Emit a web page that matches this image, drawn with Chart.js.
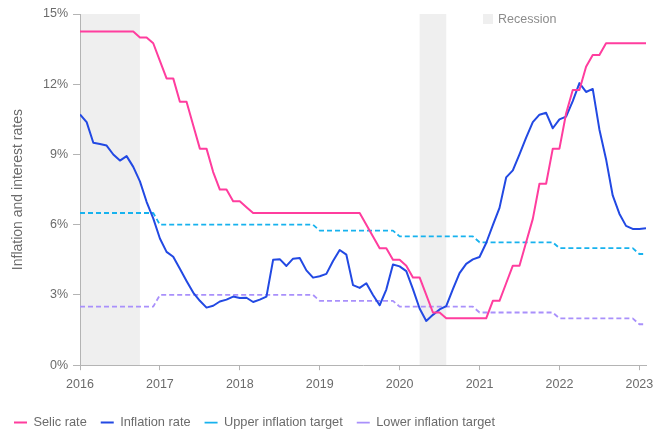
<!DOCTYPE html>
<html><head><meta charset="utf-8">
<script src="https://cdn.jsdelivr.net/npm/chart.js@4.4.1/dist/chart.umd.min.js"></script>
<style>html,body{margin:0;padding:0;background:#fff}#wrap{width:667px;height:430px;position:relative}</style>
</head><body><div id="wrap"><canvas id="c" width="667" height="430"></canvas></div>
<script>
// Monthly data, index 0 = Jan 2016 ... index 85 = Feb 2023
const xTickValues = [0, 12, 24, 36, 48, 60, 72, 84];
const xTickLabels = ['2016', '2017', '2018', '2019', '2020', '2021', '2022', '2023'];
const yTickValues = [0, 3, 6, 9, 12, 15];
const yTickLabels = ['0%', '3%', '6%', '9%', '12%', '15%'];

const selicRate = [
  14.25, 14.25, 14.25, 14.25, 14.25, 14.25, 14.25, 14.25, 14.25, 14.0, 14.0, 13.75,
  13.0, 12.25, 12.25, 11.25, 11.25, 10.25, 9.25, 9.25, 8.25, 7.5, 7.5, 7.0,
  7.0, 6.75, 6.5, 6.5, 6.5, 6.5, 6.5, 6.5, 6.5, 6.5, 6.5, 6.5,
  6.5, 6.5, 6.5, 6.5, 6.5, 6.5, 6.5, 6.0, 5.5, 5.0, 5.0, 4.5,
  4.5, 4.25, 3.75, 3.75, 3.0, 2.25, 2.25, 2.0, 2.0, 2.0, 2.0, 2.0,
  2.0, 2.0, 2.75, 2.75, 3.5, 4.25, 4.25, 5.25, 6.25, 7.75, 7.75, 9.25,
  9.25, 10.75, 11.75, 11.75, 12.75, 13.25, 13.25, 13.75, 13.75, 13.75, 13.75, 13.75,
  13.75, 13.75
];
const inflationRate = [
  10.71, 10.38, 9.5, 9.45, 9.38, 9.0, 8.74, 8.93, 8.47, 7.85, 6.98, 6.27,
  5.41, 4.84, 4.63, 4.12, 3.6, 3.1, 2.75, 2.46, 2.54, 2.72, 2.8, 2.93,
  2.87, 2.88, 2.7, 2.8, 2.93, 4.5, 4.53, 4.24, 4.55, 4.58, 4.05, 3.74,
  3.8, 3.9, 4.45, 4.92, 4.72, 3.42, 3.3, 3.5, 3.0, 2.56, 3.23, 4.3,
  4.22, 4.02, 3.25, 2.42, 1.89, 2.15, 2.38, 2.52, 3.25, 3.93, 4.33, 4.52,
  4.62, 5.22, 5.98, 6.72, 8.02, 8.32, 9.0, 9.72, 10.38, 10.7, 10.78, 10.12,
  10.5, 10.62, 11.28, 12.05, 11.67, 11.8, 10.07, 8.8, 7.25, 6.47, 5.95, 5.82,
  5.82, 5.85
];
const upperTarget = [
  6.5, 6.5, 6.5, 6.5, 6.5, 6.5, 6.5, 6.5, 6.5, 6.5, 6.5, 6.5,
  6.0, 6.0, 6.0, 6.0, 6.0, 6.0, 6.0, 6.0, 6.0, 6.0, 6.0, 6.0,
  6.0, 6.0, 6.0, 6.0, 6.0, 6.0, 6.0, 6.0, 6.0, 6.0, 6.0, 6.0,
  5.75, 5.75, 5.75, 5.75, 5.75, 5.75, 5.75, 5.75, 5.75, 5.75, 5.75, 5.75,
  5.5, 5.5, 5.5, 5.5, 5.5, 5.5, 5.5, 5.5, 5.5, 5.5, 5.5, 5.5,
  5.25, 5.25, 5.25, 5.25, 5.25, 5.25, 5.25, 5.25, 5.25, 5.25, 5.25, 5.25,
  5.0, 5.0, 5.0, 5.0, 5.0, 5.0, 5.0, 5.0, 5.0, 5.0, 5.0, 5.0,
  4.75, 4.75
];
const lowerTarget = [
  2.5, 2.5, 2.5, 2.5, 2.5, 2.5, 2.5, 2.5, 2.5, 2.5, 2.5, 2.5,
  3.0, 3.0, 3.0, 3.0, 3.0, 3.0, 3.0, 3.0, 3.0, 3.0, 3.0, 3.0,
  3.0, 3.0, 3.0, 3.0, 3.0, 3.0, 3.0, 3.0, 3.0, 3.0, 3.0, 3.0,
  2.75, 2.75, 2.75, 2.75, 2.75, 2.75, 2.75, 2.75, 2.75, 2.75, 2.75, 2.75,
  2.5, 2.5, 2.5, 2.5, 2.5, 2.5, 2.5, 2.5, 2.5, 2.5, 2.5, 2.5,
  2.25, 2.25, 2.25, 2.25, 2.25, 2.25, 2.25, 2.25, 2.25, 2.25, 2.25, 2.25,
  2.0, 2.0, 2.0, 2.0, 2.0, 2.0, 2.0, 2.0, 2.0, 2.0, 2.0, 2.0,
  1.75, 1.75
];
const recessionStart = [0, 51];
const recessionEnd = [9, 55];
const seriesNames = ['Selic rate', 'Inflation rate', 'Upper inflation target', 'Lower inflation target'];
const recessionLabel = 'Recession';

const FONT = '"Liberation Sans", Arial, sans-serif';
const TXT = '#6b6b6b';
const AXIS = '#b4b4b4';

const toPoints = arr => arr.map((v, i) => ({x: i, y: v}));

const recessionPlugin = {
  id: 'recession',
  afterInit(chart) {
    const lg = chart.legend;
    if (lg) {
      const f = lg.fit.bind(lg);
      lg.fit = function () { f(); this.height -= 9; };
    }
  },
  beforeDraw(chart) {
    const {ctx, scales: {x, y}} = chart;
    ctx.save();
    ctx.fillStyle = '#efefef';
    const yTop = y.getPixelForValue(15), yBot = y.getPixelForValue(0);
    recessionStart.forEach((s, i) => {
      const x0 = x.getPixelForValue(s), x1 = x.getPixelForValue(recessionEnd[i]);
      ctx.fillRect(x0, yTop, x1 - x0, yBot - yTop);
    });
    // recession legend
    ctx.fillRect(483, 14, 10, 10);
    ctx.fillStyle = '#8c8c8c';
    ctx.font = '12.5px ' + FONT;
    ctx.textBaseline = 'middle';
    ctx.textAlign = 'left';
    ctx.fillText(recessionLabel, 498, 19.5);
    ctx.restore();
  }
};

new Chart(document.getElementById('c'), {
  type: 'line',
  data: {
    datasets: [
      {label: seriesNames[0], data: toPoints(selicRate), borderColor: '#ff3d9e', borderWidth: 2},
      {label: seriesNames[1], data: toPoints(inflationRate), borderColor: '#2249e3', borderWidth: 2},
      {label: seriesNames[2], data: toPoints(upperTarget), borderColor: '#17b2ee', borderWidth: 1.8, borderDash: [5, 3]},
      {label: seriesNames[3], data: toPoints(lowerTarget), borderColor: '#a990fb', borderWidth: 1.8, borderDash: [5, 3]}
    ]
  },
  options: {
    responsive: false,
    animation: false,
    devicePixelRatio: 1,
    layout: {padding: {left: 0, right: 21, top: 14, bottom: 0}},
    elements: {point: {radius: 0, hoverRadius: 0}, line: {tension: 0, borderCapStyle: 'butt', borderJoinStyle: 'round'}},
    plugins: {
      tooltip: {enabled: false},
      legend: {
        position: 'bottom',
        align: 'start',
        labels: {
          usePointStyle: true,
          pointStyle: 'line',
          pointStyleWidth: 13,
          boxWidth: 13,
          boxHeight: 12,
          padding: 14,
          color: TXT,
          font: {family: FONT, size: 12.8}
        }
      }
    },
    scales: {
      x: {
        type: 'linear',
        min: 0,
        max: 85,
        afterBuildTicks: s => { s.ticks = xTickValues.map(v => ({value: v})); },
        afterFit: s => { s.height += 3; },
        ticks: {
          autoSkip: false,
          maxRotation: 0,
          padding: 7,
          color: TXT,
          font: {family: FONT, size: 12.5},
          callback: v => xTickLabels[xTickValues.indexOf(v)]
        },
        grid: {display: true, drawOnChartArea: false, drawTicks: true, tickLength: 5, color: AXIS},
        border: {display: true, color: AXIS, width: 1}
      },
      y: {
        min: 0,
        max: 15,
        afterBuildTicks: s => { s.ticks = yTickValues.map(v => ({value: v})); },
        afterFit: s => { s.width = 80; },
        ticks: {
          padding: 5,
          color: TXT,
          font: {family: FONT, size: 12.5},
          callback: v => yTickLabels[yTickValues.indexOf(v)]
        },
        grid: {display: true, drawOnChartArea: false, drawTicks: true, tickLength: 7, color: AXIS},
        border: {display: true, color: AXIS, width: 1},
        title: {
          display: true,
          text: 'Inflation and interest rates',
          color: TXT,
          font: {family: FONT, size: 14},
          padding: {top: 10, bottom: 0}
        }
      }
    }
  },
  plugins: [recessionPlugin]
});
</script>
</body></html>
